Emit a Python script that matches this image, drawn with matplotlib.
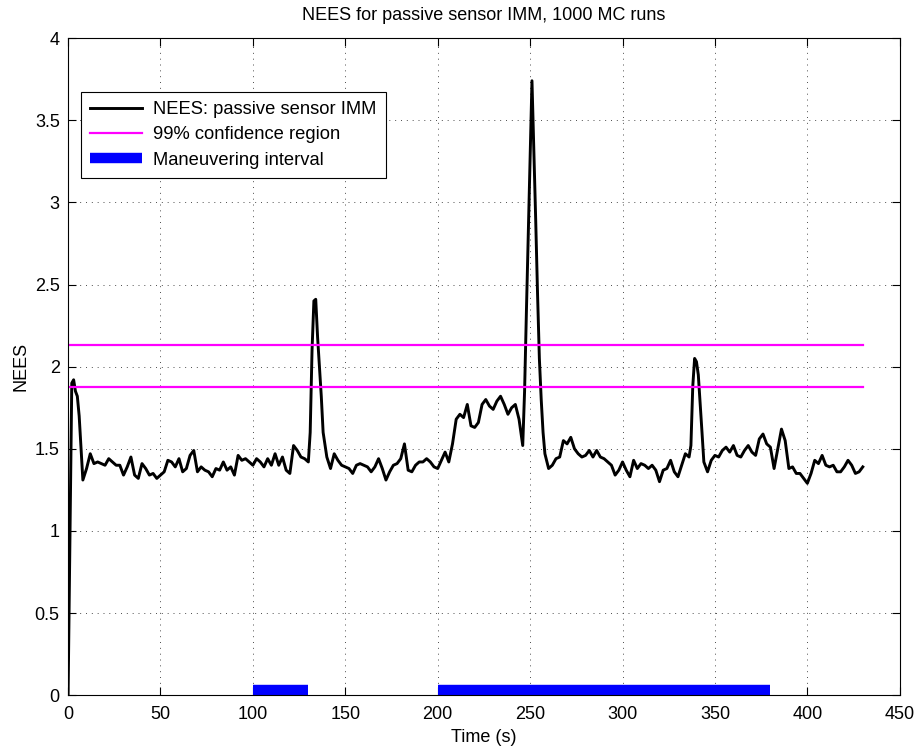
import numpy as np
import matplotlib
matplotlib.use("Agg")
import matplotlib.pyplot as plt

plt.rcParams['font.family'] = ['Liberation Sans', 'DejaVu Sans']

# NEES read every 2 s, t = 0 .. 430
nees_2s = [
    0.00, 1.90, 1.85, 1.70, 1.31, 1.38, 1.47, 1.41, 1.42, 1.41,
    1.40, 1.44, 1.42, 1.40, 1.40, 1.34, 1.39, 1.45, 1.34, 1.32,
    1.41, 1.38, 1.34, 1.35, 1.32, 1.34, 1.36, 1.43, 1.42, 1.39,
    1.44, 1.36, 1.38, 1.46, 1.49, 1.36, 1.39, 1.37, 1.36, 1.33,
    1.38, 1.37, 1.42, 1.37, 1.39, 1.34, 1.46, 1.43, 1.44, 1.42,
    1.40, 1.44, 1.42, 1.39, 1.44, 1.40, 1.47, 1.40, 1.45, 1.37,
    1.35, 1.52, 1.49, 1.45, 1.44, 1.42, 2.10, 2.41, 2.00, 1.60,
    1.45, 1.38, 1.47, 1.43, 1.40, 1.39, 1.38, 1.35, 1.40, 1.41,
    1.40, 1.39, 1.36, 1.39, 1.44, 1.38, 1.31, 1.36, 1.40, 1.41,
    1.44, 1.53, 1.37, 1.36, 1.40, 1.42, 1.42, 1.44, 1.42, 1.39,
    1.38, 1.43, 1.48, 1.42, 1.53, 1.68, 1.71, 1.69, 1.77, 1.64,
    1.63, 1.66, 1.77, 1.80, 1.76, 1.74, 1.79, 1.82, 1.77, 1.71,
    1.75, 1.77, 1.68, 1.52, 2.34, 3.27, 3.33, 2.45, 1.80, 1.47,
    1.38, 1.40, 1.44, 1.45, 1.55, 1.53, 1.57, 1.50, 1.47, 1.45,
    1.46, 1.49, 1.45, 1.49, 1.45, 1.44, 1.42, 1.40, 1.34, 1.37,
    1.42, 1.37, 1.33, 1.43, 1.38, 1.41, 1.40, 1.38, 1.40, 1.37,
    1.30, 1.37, 1.38, 1.43, 1.36, 1.33, 1.40, 1.47, 1.45, 1.88,
    2.03, 1.78, 1.42, 1.36, 1.43, 1.46, 1.45, 1.49, 1.51, 1.48,
    1.52, 1.46, 1.45, 1.49, 1.52, 1.48, 1.46, 1.56, 1.59, 1.53,
    1.51, 1.38, 1.50, 1.62, 1.55, 1.38, 1.39, 1.35, 1.35, 1.32,
    1.29, 1.35, 1.43, 1.41, 1.46, 1.40, 1.39, 1.40, 1.36, 1.36,
    1.39, 1.43, 1.40, 1.35, 1.36, 1.39,
]

# extra samples around the spikes
peak_t = [3, 5, 7, 131, 133, 135, 137, 247, 249, 251, 253, 255, 257, 337, 339, 341, 343]
peak_v = [1.92, 1.82, 1.50, 1.60, 2.40, 2.18, 1.82, 1.85, 2.80, 3.74, 2.90, 2.05, 1.60,
          1.52, 2.05, 1.95, 1.60]

conf_bounds = [1.875, 2.13]
conf_t = [0, 430]

man_start = [100, 200]
man_end = [130, 380]
man_level = 0.03

t = np.concatenate([np.arange(0, 431, 2), peak_t])
q = np.concatenate([nees_2s, peak_v])
order = np.argsort(t)
t, q = t[order], q[order]

fig = plt.figure(figsize=(9.2, 7.46), dpi=100)
ax = fig.add_axes([0.074, 0.068, 0.904, 0.881])

ax.plot(t, q, color='k', lw=2.1, label='NEES: passive sensor IMM')
for i, b in enumerate(conf_bounds):
    ax.plot(conf_t, [b, b], color='#ff00ff', lw=1.6,
            label='99% confidence region' if i == 0 else None)
for i in range(len(man_start)):
    ax.plot([man_start[i], man_end[i]], [man_level, man_level], color='#0000ff',
            lw=7.5, solid_capstyle='butt',
            label='Maneuvering interval' if i == 0 else None)

ax.set_xlim(0, 450)
ax.set_ylim(0, 4)
ax.set_xticks(np.arange(0, 451, 50))
ax.set_yticks(np.arange(0, 4.01, 0.5))
ax.set_yticklabels(['0', '0.5', '1', '1.5', '2', '2.5', '3', '3.5', '4'])
ax.tick_params(direction='in', top=True, right=True, labelsize=13, length=6, width=0.8)
ax.tick_params(axis='x', pad=8)
ax.tick_params(axis='y', pad=6)
ax.grid(True, linestyle=(0, (1, 5)), color='0.3', linewidth=0.7)
for s in ax.spines.values():
    s.set_linewidth(0.8)

ax.set_xlabel('Time (s)', fontsize=13, labelpad=4)
ax.set_ylabel('NEES', fontsize=13, labelpad=4)
ax.set_title('NEES for passive sensor IMM, 1000 MC runs', fontsize=13, pad=13)

leg = ax.legend(loc='upper left', bbox_to_anchor=(0.0156, 0.918), borderaxespad=0,
                fontsize=13.2, handlelength=2.8, handletextpad=0.65, fancybox=False,
                framealpha=1, edgecolor='k', borderpad=0.5, labelspacing=0.45)
leg.get_frame().set_linewidth(0.8)

plt.savefig('out.png')
